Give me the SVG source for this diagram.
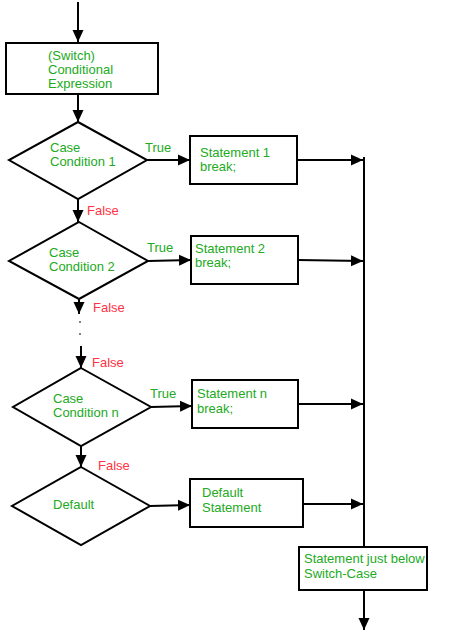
<svg xmlns="http://www.w3.org/2000/svg" width="452" height="635" viewBox="0 0 452 635">
<defs>
<marker id="ah" markerWidth="13" markerHeight="13" refX="12" refY="6.5" orient="auto" markerUnits="userSpaceOnUse">
<path d="M0,1 L12,6.5 L0,12 Z" fill="#000"/>
</marker>
<style>
.s{fill:#fff;stroke:#000;stroke-width:2}
.c{fill:none;stroke:#000;stroke-width:2}
.a{marker-end:url(#ah)}
.t{font-family:"Liberation Sans",Arial,sans-serif;font-size:13px;fill:#22aa22}
.f{font-family:"Liberation Sans",Arial,sans-serif;font-size:13px;fill:#ff3344}
.d{fill:#555}
</style>
</defs>
<rect width="452" height="635" fill="#fff"/>
<g id="connectors">
<line class="c a" x1="78" y1="2" x2="78" y2="42"/>
<line class="c a" x1="78" y1="94" x2="78" y2="122"/>
<line class="c a" x1="78" y1="199" x2="78" y2="222"/>
<line class="c a" x1="79" y1="299" x2="79" y2="314"/>
<circle class="d" cx="80" cy="322" r="1"/>
<circle class="d" cx="80" cy="334" r="1"/>
<line class="c a" x1="81" y1="346" x2="81" y2="368"/>
<line class="c a" x1="81" y1="446" x2="81" y2="467"/>
<line class="c a" x1="147" y1="160" x2="190" y2="160"/>
<line class="c a" x1="148" y1="261" x2="191" y2="260"/>
<line class="c a" x1="151" y1="407" x2="192" y2="406"/>
<line class="c a" x1="150" y1="506" x2="190" y2="505"/>
<line class="c a" x1="297" y1="160" x2="363" y2="160"/>
<line class="c a" x1="298" y1="260" x2="363" y2="261"/>
<line class="c a" x1="298" y1="404" x2="363" y2="404"/>
<line class="c a" x1="303" y1="504" x2="363" y2="504"/>
<line class="c" x1="364" y1="157" x2="364" y2="547"/>
<line class="c a" x1="364" y1="590" x2="364" y2="630"/>
<text class="t" x="145" y="152">True</text>
<text class="t" x="147" y="252">True</text>
<text class="t" x="150" y="398">True</text>
<text class="f" x="87" y="215">False</text>
<text class="f" x="93" y="312">False</text>
<text class="f" x="92" y="367">False</text>
<text class="f" x="98" y="470">False</text>
</g>
<g id="switch">
<rect class="s" x="6" y="43" width="152" height="51"/>
<text class="t" x="48" y="60">(Switch)</text>
<text class="t" x="48" y="74">Conditional</text>
<text class="t" x="48" y="88">Expression</text>
</g>
<g id="case1">
<polygon class="s" points="78,122 147,160 78,199 9,160"/>
<text class="t" x="50" y="152">Case</text>
<text class="t" x="50" y="166">Condition 1</text>
</g>
<g id="case2">
<polygon class="s" points="79,222 148,261 79,299 9,261"/>
<text class="t" x="49" y="257">Case</text>
<text class="t" x="49" y="271">Condition 2</text>
</g>
<g id="casen">
<polygon class="s" points="81,368 151,407 81,446 13,407"/>
<text class="t" x="53" y="403">Case</text>
<text class="t" x="53" y="417">Condition n</text>
</g>
<g id="default">
<polygon class="s" points="81,467 150,506 81,545 12,506"/>
<text class="t" x="53" y="509">Default</text>
</g>
<g id="stmt1">
<rect class="s" x="190" y="136" width="107" height="48"/>
<text class="t" x="200" y="157">Statement 1</text>
<text class="t" x="200" y="171">break;</text>
</g>
<g id="stmt2">
<rect class="s" x="191" y="236" width="107" height="48"/>
<text class="t" x="195" y="253">Statement 2</text>
<text class="t" x="195" y="267">break;</text>
</g>
<g id="stmtn">
<rect class="s" x="192" y="380" width="106" height="48"/>
<text class="t" x="197" y="398">Statement n</text>
<text class="t" x="197" y="413">break;</text>
</g>
<g id="stmtdefault">
<rect class="s" x="190" y="479" width="113" height="48"/>
<text class="t" x="202" y="497">Default</text>
<text class="t" x="202" y="512">Statement</text>
</g>
<g id="after">
<rect class="s" x="299" y="547" width="128" height="43"/>
<text class="t" x="304" y="563">Statement just below</text>
<text class="t" x="304" y="578">Switch-Case</text>
</g>
</svg>
